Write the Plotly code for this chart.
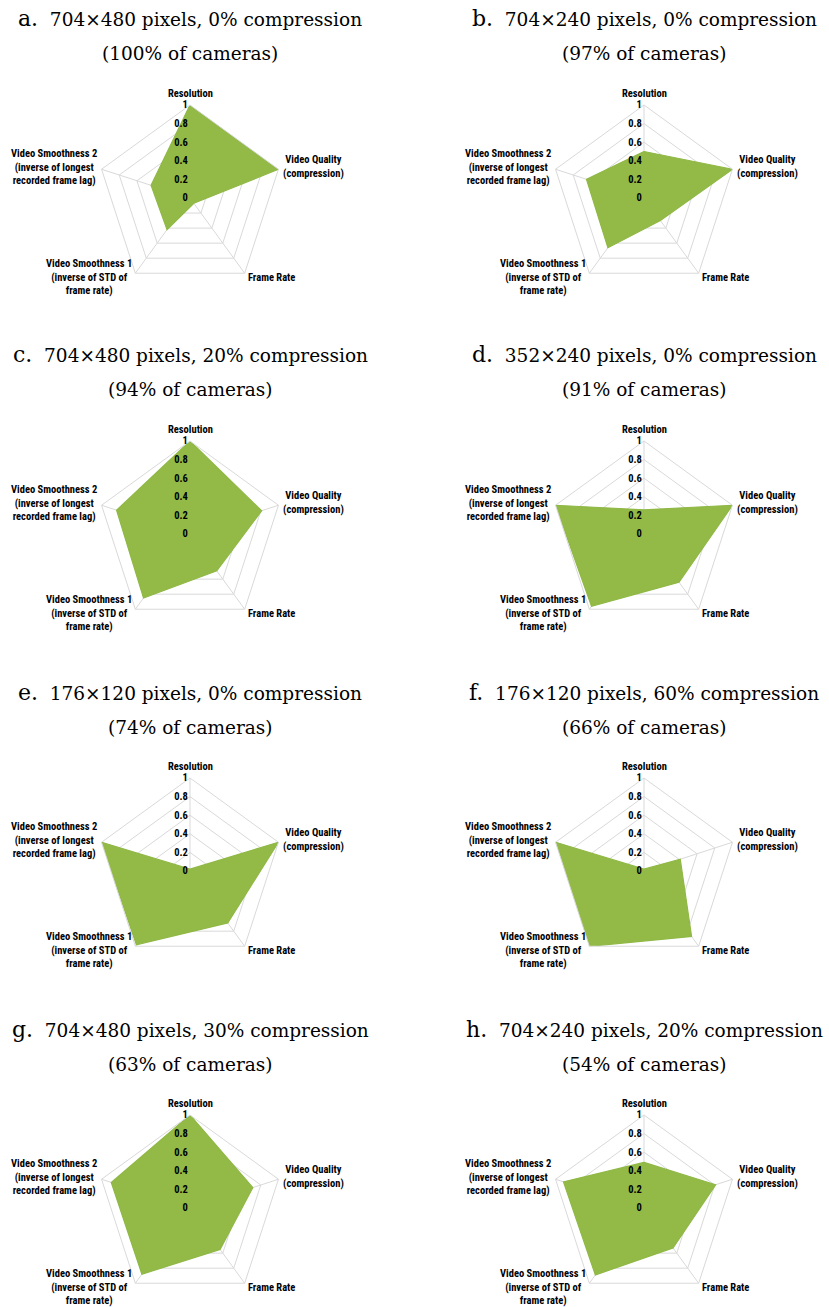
import math
import plotly.graph_objects as go

# ---------------- data ----------------
categories = [
    "Resolution",
    "Video Quality<br>(compression)",
    "Frame Rate",
    "Video Smoothness 1<br>(inverse of STD of<br>frame rate)",
    "Video Smoothness 2<br>(inverse of longest<br>recorded frame lag)",
]
panel_letters = ["a.", "b.", "c.", "d.", "e.", "f.", "g.", "h."]
panel_titles = [
    "704×480 pixels, 0% compression",
    "704×240 pixels, 0% compression",
    "704×480 pixels, 20% compression",
    "352×240 pixels, 0% compression",
    "176×120 pixels, 0% compression",
    "176×120 pixels, 60% compression",
    "704×480 pixels, 30% compression",
    "704×240 pixels, 20% compression",
]
camera_share = [
    "(100% of cameras)", "(97% of cameras)", "(94% of cameras)", "(91% of cameras)",
    "(74% of cameras)", "(66% of cameras)", "(63% of cameras)", "(54% of cameras)",
]
values_a = [1.00, 1.00, 0.07, 0.42, 0.44]
values_b = [0.50, 1.00, 0.30, 0.66, 0.65]
values_c = [1.00, 0.81, 0.49, 0.85, 0.83]
values_d = [0.26, 1.00, 0.64, 0.96, 1.00]
values_e = [0.02, 1.00, 0.69, 0.98, 1.00]
values_f = [0.02, 0.41, 0.87, 1.00, 1.00]
values_g = [1.00, 0.71, 0.55, 0.88, 0.89]
values_h = [0.49, 0.81, 0.53, 0.89, 0.91]
all_values = [values_a, values_b, values_c, values_d,
              values_e, values_f, values_g, values_h]
radial_ticks = [0, 0.2, 0.4, 0.6, 0.8, 1]

# ---------------- layout geometry ----------------
W, H = 829, 1307
col_cx = [190, 644]
row_cy = [198, 534, 871, 1208]
R = 93
LABEL_GAP = 3

label_font = dict(family="Liberation Sans Narrow, Roboto Condensed, Roboto",
                  size=10.5, color="#000000", weight="bold")
title_font = dict(family="DejaVu Serif", size=18.5, color="#000000")

fig = go.Figure()

for i, vals in enumerate(all_values):
    row, col = divmod(i, 2)
    cx, cy = col_cx[col], row_cy[row]
    name = "polar" if i == 0 else f"polar{i+1}"
    fig.add_trace(go.Scatterpolar(
        r=vals + [vals[0]],
        theta=categories + [categories[0]],
        mode="lines",
        fill="toself",
        fillcolor="#93ba47",
        line=dict(color="#8fb845", width=1.2),
        subplot=name,
        showlegend=False,
        hoverinfo="skip",
    ))
    fig.layout[name] = dict(
        domain=dict(x=[(cx - R) / W, (cx + R) / W],
                    y=[1 - (cy + R) / H, 1 - (cy - R) / H]),
        gridshape="linear",
        bgcolor="rgba(0,0,0,0)",
        radialaxis=dict(
            range=[0, 1], tickvals=radial_ticks,
            angle=90, side="counterclockwise",
            showline=False, ticks="",
            gridcolor="#d9d9d9", gridwidth=1,
            tickfont=label_font, tickangle=90,
            ticksuffix="\u2002\u200b",
        ),
        angularaxis=dict(
            rotation=90, direction="clockwise",
            showline=True, linecolor="#d9d9d9", linewidth=1,
            gridcolor="#d9d9d9", gridwidth=1,
            ticks="", showticklabels=False,
        ),
    )
    # category labels placed just outside each spoke
    n = len(categories)
    for k, cat in enumerate(categories):
        ang = math.pi / 2 - 2 * math.pi * k / n
        c, s = math.cos(ang), math.sin(ang)
        px = cx + (R + LABEL_GAP) * c
        if abs(c) < 0.1:
            xa, ya = "center", "bottom"
            py = cy - R - 3
        else:
            xa = "left" if c > 0 else "right"
            ya = "middle"
            py = cy - R * s + (4 if s < 0 else -2.5)
        fig.add_annotation(
            x=px / W, y=1 - py / H, xref="paper", yref="paper",
            xanchor=xa, yanchor=ya, showarrow=False, align="center",
            text=cat, font=label_font,
        )
    fig.add_annotation(
        x=cx / W, y=1 - (19 + cy - row_cy[0]) / H, xref="paper", yref="paper",
        xanchor="center", yanchor="middle", showarrow=False,
        text=f'<span style="font-size:22px">{panel_letters[i]}</span>\u00a0\u00a0{panel_titles[i]}',
        font=title_font,
    )
    fig.add_annotation(
        x=cx / W, y=1 - (54 + cy - row_cy[0]) / H, xref="paper", yref="paper",
        xanchor="center", yanchor="middle", showarrow=False,
        text=camera_share[i], font=title_font,
    )

fig.update_layout(
    width=W, height=H,
    margin=dict(l=0, r=0, t=0, b=0),
    paper_bgcolor="white", plot_bgcolor="white",
)
fig.write_html("out.html")
